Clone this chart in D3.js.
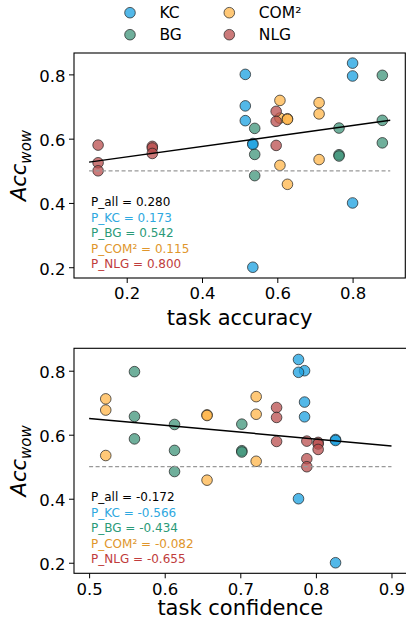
<!DOCTYPE html>
<html>
<head>
<meta charset="utf-8">
<script src="https://cdn.jsdelivr.net/npm/d3@7"></script>
<style>
  html, body { margin: 0; padding: 0; background: #fff; }
  svg { display: block; font-family: "DejaVu Sans", sans-serif; }
</style>
</head>
<body>
<svg id="chart" width="406" height="623"></svg>
<script>
// groups, in legend order
var groups = ["KC", "BG", "COM²", "NLG"];
var markerColors = ["#19a0e0", "#3f9479", "#ffb54a", "#ba4d4d"];
var textColors = ["#2ea8e0", "#2a9a78", "#e0962c", "#c03c3c"];

// one entry per point, same order in both panels
var taskAccuracy = {
  "KC":   [0.515, 0.515, 0.515, 0.535, 0.535, 0.535, 0.800, 0.800, 0.800],
  "BG":   [0.540, 0.540, 0.540, 0.764, 0.764, 0.764, 0.879, 0.879, 0.879],
  "COM²": [0.711, 0.711, 0.711, 0.607, 0.607, 0.607, 0.627, 0.627, 0.627],
  "NLG":  [0.124, 0.124, 0.124, 0.268, 0.268, 0.268, 0.597, 0.597, 0.597]
};
var taskConfidence = {
  "KC":   [0.785, 0.785, 0.785, 0.826, 0.826, 0.826, 0.777, 0.777, 0.777],
  "BG":   [0.613, 0.613, 0.613, 0.702, 0.702, 0.702, 0.560, 0.560, 0.560],
  "COM²": [0.522, 0.522, 0.522, 0.721, 0.721, 0.721, 0.656, 0.656, 0.656],
  "NLG":  [0.788, 0.788, 0.788, 0.803, 0.803, 0.803, 0.748, 0.748, 0.748]
};
var accWow = {
  "KC":   [0.800, 0.702, 0.656, 0.585, 0.582, 0.200, 0.835, 0.795, 0.400],
  "BG":   [0.632, 0.551, 0.485, 0.633, 0.550, 0.546, 0.797, 0.657, 0.587],
  "COM²": [0.712, 0.677, 0.535, 0.719, 0.664, 0.517, 0.662, 0.660, 0.458],
  "NLG":  [0.580, 0.525, 0.500, 0.576, 0.571, 0.554, 0.685, 0.654, 0.579]
};

var pAccuracy = ["0.280", "0.173", "0.542", "0.115", "0.800"];
var pConfidence = ["-0.172", "-0.566", "-0.434", "-0.082", "-0.655"];
var pNames = ["P_all", "P_KC", "P_BG", "P_COM²", "P_NLG"];

// regression line end points
var fitAccuracy = [[0.1, 0.527], [0.9, 0.657]];
var fitConfidence = [[0.5, 0.651], [0.9, 0.565]];
var chanceLevel = 0.5;

var accTicks = [0.2, 0.4, 0.6, 0.8];
var confTicks = [0.5, 0.6, 0.7, 0.8, 0.9];
var wowTicks = [0.2, 0.4, 0.6, 0.8];

var svg = d3.select("#chart");

function drawPanel(opt) {
  var x = d3.scaleLinear().domain(opt.xDomain).range([opt.left, opt.right]);
  var y = d3.scaleLinear().domain(opt.yDomain).range([opt.bottom, opt.top]);
  var g = svg.append("g");

  // points
  groups.forEach(function (name, i) {
    var xs = opt.xValues[name];
    var ys = accWow[name];
    g.append("g").selectAll("circle")
      .data(xs.map(function (v, k) { return [v, ys[k]]; }))
      .enter().append("circle")
      .attr("cx", function (d) { return x(d[0]); })
      .attr("cy", function (d) { return y(d[1]); })
      .attr("r", 5.3)
      .attr("fill", markerColors[i])
      .attr("fill-opacity", 0.75)
      .attr("stroke", "#222")
      .attr("stroke-opacity", 0.8)
      .attr("stroke-width", 0.9);
  });

  // dashed chance line over the same span as the fit
  g.append("line")
    .attr("x1", x(opt.fit[0][0])).attr("x2", x(opt.fit[1][0]))
    .attr("y1", y(chanceLevel)).attr("y2", y(chanceLevel))
    .attr("stroke", "#999").attr("stroke-width", 1.2)
    .attr("stroke-dasharray", "4,2.5");

  g.append("line")
    .attr("x1", x(opt.fit[0][0])).attr("y1", y(opt.fit[0][1]))
    .attr("x2", x(opt.fit[1][0])).attr("y2", y(opt.fit[1][1]))
    .attr("stroke", "#000").attr("stroke-width", 1.5);

  // axes
  var xAxis = g.append("g")
    .attr("transform", "translate(0," + opt.bottom + ")")
    .call(d3.axisBottom(x).tickValues(opt.xTicks).tickSize(5).tickPadding(4.5)
      .tickFormat(d3.format(".1f")));
  var yAxis = g.append("g")
    .attr("transform", "translate(" + opt.left + ",0)")
    .call(d3.axisLeft(y).tickValues(wowTicks).tickSize(5).tickPadding(3.5)
      .tickFormat(d3.format(".1f")));
  [xAxis, yAxis].forEach(function (a) {
    a.select(".domain").remove();
    a.selectAll("line").attr("stroke", "#000").attr("stroke-width", 1);
    a.selectAll("text").attr("fill", "#000").attr("font-size", 16.5)
      .attr("font-family", "DejaVu Sans");
  });
  yAxis.selectAll("text").attr("dy", "0.42em");

  // frame
  g.append("rect")
    .attr("x", opt.left).attr("y", opt.top)
    .attr("width", opt.right - opt.left).attr("height", opt.bottom - opt.top)
    .attr("fill", "none").attr("stroke", "#000").attr("stroke-width", 1.1);

  g.append("text")
    .attr("x", (opt.left + opt.right) / 2).attr("y", opt.xLabelY)
    .attr("text-anchor", "middle").attr("font-size", 21)
    .text(opt.xLabel);

  var yl = g.append("text")
    .attr("transform", "translate(26," + (opt.top + opt.bottom) / 2 + ") rotate(-90)")
    .attr("text-anchor", "middle").attr("font-size", 21)
    .attr("font-style", "italic");
  yl.append("tspan").text("Acc");
  yl.append("tspan").attr("font-size", 15).attr("dy", 5).text("wow");

  // correlation notes
  var colors = ["#000"].concat(textColors);
  opt.p.forEach(function (v, i) {
    g.append("text")
      .attr("x", 91).attr("y", opt.pY + i * 15.6)
      .attr("font-size", 12).attr("fill", colors[i])
      .text(pNames[i] + " = " + v);
  });
}

drawPanel({
  left: 74, right: 405.3, top: 53, bottom: 278,
  xDomain: [0.06, 0.94], yDomain: [0.1665, 0.8665],
  xValues: taskAccuracy, xTicks: accTicks, fit: fitAccuracy,
  xLabel: "task accuracy", xLabelY: 325, p: pAccuracy, pY: 206
});
drawPanel({
  left: 74, right: 406.6, top: 348.3, bottom: 573.3,
  xDomain: [0.48, 0.92], yDomain: [0.167, 0.870],
  xValues: taskConfidence, xTicks: confTicks, fit: fitConfidence,
  xLabel: "task confidence", xLabelY: 615, p: pConfidence, pY: 501
});

// legend, two columns
var legend = svg.append("g").attr("font-size", 15.5);
groups.forEach(function (name, i) {
  var col = Math.floor(i / 2), row = i % 2;
  var lx = 130 + col * 99.3, ly = 12.7 + row * 22;
  legend.append("circle")
    .attr("cx", lx).attr("cy", ly).attr("r", 5.3)
    .attr("fill", markerColors[i]).attr("fill-opacity", 0.75)
    .attr("stroke", "#222").attr("stroke-opacity", 0.8).attr("stroke-width", 0.9);
  legend.append("text")
    .attr("x", lx + 29.5).attr("y", ly + 5).text(name);
});
</script>
</body>
</html>
